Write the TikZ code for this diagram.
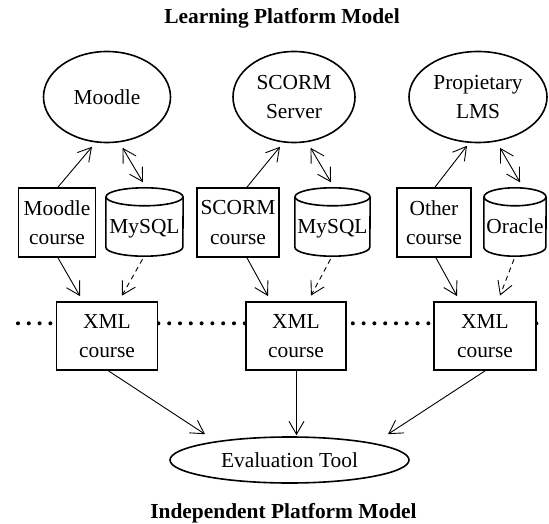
\documentclass[tikz,border=0pt]{standalone}
\usepackage{fontspec}
\setmainfont{Liberation Serif}
\usetikzlibrary{arrows.meta,shapes.geometric}
\newcommand{\dbcyl}[5]{%
  \node[cyln, minimum width=#4pt] (#1) at (#2,#3) {#5};
  \draw[cylline] ([yshift=-9pt]#1.north) ellipse [x radius=#4pt/2, y radius=9pt];
  \draw[cylline] ([yshift=-9pt]#1.north west) -- ([yshift=9pt]#1.south west)
     arc [start angle=180, end angle=360, x radius=#4pt/2, y radius=9pt]
     -- ([yshift=-9pt]#1.north east);
}
\begin{document}
\begin{tikzpicture}[x=1pt,y=1pt,
  txt/.style={font=\fontsize{21.4}{29.5}\selectfont, align=center},
  ttl/.style={font=\fontsize{21.4}{25}\selectfont\bfseries},
  ell/.style={txt, draw, ellipse, line width=1.6pt, inner sep=1pt},
  boxn/.style={txt, draw, rectangle, line width=1.8pt, fill=white, minimum height=69pt, inner sep=1pt},
  xbox/.style={boxn, minimum height=68pt},
  cyln/.style={txt, inner sep=0pt, minimum height=68pt, text height=28pt, text depth=5pt},
  cylline/.style={line width=1.6pt},
  arr/.style={line width=0.9pt, -{Straight Barb[length=13pt,width=15pt]}},
  darr/.style={line width=0.9pt, {Straight Barb[length=13pt,width=15pt]}-{Straight Barb[length=13pt,width=15pt]}},
  dsh/.style={arr, dash pattern=on 5pt off 4pt},
  dotline/.style={line width=4pt, line cap=round, dash pattern=on 0pt off 10.8pt}
]
\useasboundingbox (0,0) rectangle (549,523);

\node[ttl, anchor=base] (t1) at (282,499) {Learning Platform Model};
\node[ttl, anchor=base] (t2) at (283.5,5) {Independent Platform Model};

\node[ell, minimum width=127pt, minimum height=91pt] (moodle) at (107,426) {Moodle};
\node[ell, minimum width=122pt, minimum height=91pt] (scorm) at (294,426) {SCORM\\Server};
\node[ell, minimum width=138pt, minimum height=91pt] (lms) at (478,426) {Propietary\\LMS};

\node[boxn, minimum width=77pt] (mc) at (57,300.5) {Moodle\\course};
\node[boxn, minimum width=82pt] (sc) at (238,300.5) {SCORM\\course};
\node[boxn, minimum width=74pt] (oc) at (434,300.5) {Other\\course};

\dbcyl{db1}{144.5}{301}{77}{MySQL}
\dbcyl{db2}{332.5}{301}{75}{MySQL}
\dbcyl{db3}{515}{301}{62}{Oracle}

\coordinate (dl) at (18,199.7);
\coordinate (dr) at (546,199.7);
\draw[dotline] (dl) -- (dr);

\node[xbox, minimum width=101pt] (x1) at (107,187) {XML\\course};
\node[xbox, minimum width=100pt] (x2) at (296,187) {XML\\course};
\node[xbox, minimum width=102pt] (x3) at (485,187) {XML\\course};

\node[ell, minimum width=239pt, minimum height=46pt] (eval) at (289.5,63) {Evaluation Tool};

\draw[arr] ([xshift=1pt]mc.north) -- ([xshift=-15pt,yshift=-3.5pt]moodle.south);
\draw[arr] ([xshift=9pt]sc.north) -- ([xshift=-14pt,yshift=-3.5pt]scorm.south);
\draw[arr] ([xshift=1pt]oc.north) -- ([xshift=-11pt,yshift=-2.5pt]lms.south);

\draw[darr] ([xshift=15.5pt,yshift=-4.5pt]moodle.south) -- ([xshift=-1.5pt,yshift=5.5pt]db1.north);
\draw[darr] ([xshift=16.5pt,yshift=-4.5pt]scorm.south) -- ([xshift=-1.5pt,yshift=5.5pt]db2.north);
\draw[darr] ([xshift=22pt,yshift=-4.5pt]lms.south) -- ([xshift=5pt,yshift=5.5pt]db3.north);

\draw[arr] ([xshift=1pt]mc.south) -- ([xshift=-27pt,yshift=5pt]x1.north);
\draw[arr] ([xshift=9pt]sc.south) -- ([xshift=-28pt,yshift=5pt]x2.north);
\draw[arr] ([xshift=2pt]oc.south) -- ([xshift=-28pt,yshift=5pt]x3.north);

\draw[dsh] ([xshift=-2pt,yshift=-3pt]db1.south) -- ([xshift=15pt,yshift=5.5pt]x1.north);
\draw[dsh] ([xshift=-2pt,yshift=-3pt]db2.south) -- ([xshift=15pt,yshift=5.5pt]x2.north);
\draw[dsh] ([xshift=-1pt,yshift=-3pt]db3.south) -- ([xshift=15pt,yshift=5.5pt]x3.north);

\draw[arr] ([xshift=1.5pt]x1.south) -- ([xshift=-84.5pt,yshift=2pt]eval.north);
\draw[arr] ([xshift=0.5pt]x2.south) -- ([xshift=7pt,yshift=1pt]eval.north);
\draw[arr] (x3.south) -- ([xshift=98.5pt,yshift=2pt]eval.north);
\end{tikzpicture}
\end{document}
